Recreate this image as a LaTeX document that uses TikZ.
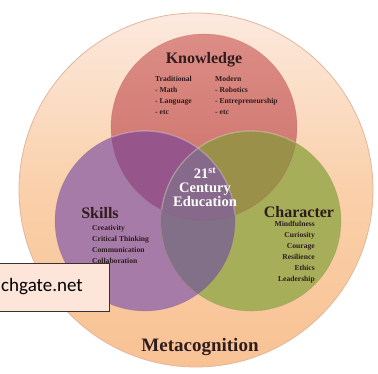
\documentclass[tikz,border=0pt]{standalone}
\usepackage{fontspec}
\setmainfont{Liberation Serif}
\newfontfamily\wmfont{Carlito}
\definecolor{outtop}{HTML}{FCE9DE}
\definecolor{outmid}{HTML}{FAD0AA}
\definecolor{outbot}{HTML}{F8C294}
\definecolor{outrim}{HTML}{E2B79C}
\definecolor{redtop}{HTML}{DC8D85}
\definecolor{redbot}{HTML}{CB6E69}
\definecolor{purp}{HTML}{A67BA8}
\definecolor{grn}{HTML}{A7AE5A}
\definecolor{redpurp}{HTML}{96558B}
\definecolor{redgrn}{HTML}{9A9049}
\definecolor{purpgrn}{HTML}{826F88}
\definecolor{centr}{HTML}{87698B}
\definecolor{ink}{HTML}{2E1C1E}
\definecolor{wmfill}{HTML}{FDE6D9}
\begin{document}
\begin{tikzpicture}[x=1pt,y=-1pt,
  head/.style={font=\bfseries\fontsize{16}{16}\selectfont, text=ink, inner sep=0},
  small/.style={font=\bfseries\fontsize{7.6}{11}\selectfont, text=ink, inner sep=0},
  ]
\useasboundingbox (0,0) rectangle (378,373);
\fill[white] (0,0) rectangle (378,373);
\coordinate (O) at (196,190);
\coordinate (K) at (204,127);
\coordinate (S) at (145,221);
\coordinate (C) at (251,221);
% outer circle
\shade[top color=outtop, bottom color=outbot, middle color=outmid] (O) circle (177);
\draw[outrim, line width=0.8] (O) circle (177);
% three circles
\shade[top color=redtop, bottom color=redbot] (K) circle (93);
\fill[purp] (S) circle (90);
\fill[grn] (C) circle (90);
\begin{scope}
  \clip (K) circle (93);
  \fill[redpurp] (S) circle (90);
  \fill[redgrn] (C) circle (90);
\end{scope}
\begin{scope}
  \clip (S) circle (90);
  \fill[purpgrn] (C) circle (90);
  \clip (K) circle (93);
  \fill[centr] (C) circle (90);
\end{scope}
% soft highlight edges inside red
\begin{scope}
  \clip (K) circle (93);
  \draw[white, opacity=0.35, line width=1.2] (S) circle (90);
  \draw[white, opacity=0.35, line width=1.2] (C) circle (90);
\end{scope}
\draw[redbot!80!black, opacity=0.25, line width=0.6] (K) circle (93);
\draw[purp!80!black, opacity=0.25, line width=0.6] (S) circle (90);
\draw[grn!80!black, opacity=0.25, line width=0.6] (C) circle (90);
% texts
\node[head] (know) at (204,60) {Knowledge};
\node[small, anchor=north west, align=left] (trad) at (155,76) {Traditional\\- Math\\- Language\\- etc};
\node[small, anchor=north west, align=left] (mod) at (215,76) {Modern\\- Robotics\\- Entrepreneurship\\- etc};
\node[font=\bfseries\fontsize{14.5}{14}\selectfont, text=white, align=center, inner sep=0] (edu) at (205,187) {21\textsuperscript{st}\\Century\\Education};
\node[head] (skills) at (100,213) {Skills};
\node[small, anchor=north west, align=left] (sklist) at (92,225) {Creativity\\Critical Thinking\\Communication\\Collaboration};
\node[head] (char) at (299,212) {Character};
\node[small, anchor=north east, align=right] (chlist) at (315,221) {Mindfulness\\Curiosity\\Courage\\Resilience\\Ethics\\Leadership};
\node[font=\bfseries\fontsize{19}{19}\selectfont, text=ink, inner sep=0] (meta) at (200,347) {Metacognition};
% watermark box
\draw[fill=wmfill, draw=black!80, line width=0.9] (-2,263) rectangle (109,311);
\node[font=\wmfont\fontsize{19}{19}\selectfont, anchor=west, inner sep=0] (wm) at (1,287) {chgate.net};
\end{tikzpicture}
\end{document}
